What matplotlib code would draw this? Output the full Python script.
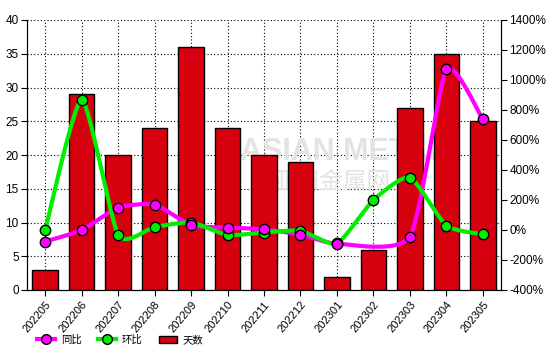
import numpy as np
import matplotlib
matplotlib.use("Agg")
import matplotlib.pyplot as plt
from matplotlib.lines import Line2D
from matplotlib.patches import Patch

plt.rcParams['font.family'] = ['Liberation Sans', 'Noto Sans CJK SC', 'DejaVu Sans']

months = ['202205', '202206', '202207', '202208', '202209', '202210', '202211',
          '202212', '202301', '202302', '202303', '202304', '202305']
days = [3, 29, 20, 24, 36, 24, 20, 19, 2, 6, 27, 35, 25]
# year-on-year (%) - no value for 202302
yoy = [-77, 0, 149, 169, 33, 16, 5, -31, -91, np.nan, -44, 1071, 738]
# month-on-month (%)
mom = [0, 867, -31, 20, 50, -33, -17, -5, -89, 200, 350, 30, -29]


def smooth(xs, ys, k=0.3, n=24):
    # cardinal spline through the points, tangents scaled by k
    xs = np.asarray(xs, float)
    ys = np.asarray(ys, float)
    m = len(xs)
    mx = np.zeros(m)
    my = np.zeros(m)
    for i in range(m):
        a = max(i - 1, 0)
        b = min(i + 1, m - 1)
        mx[i] = k * (xs[b] - xs[a])
        my[i] = k * (ys[b] - ys[a])
    t = np.linspace(0, 1, n)
    h00 = 2 * t**3 - 3 * t**2 + 1
    h10 = t**3 - 2 * t**2 + t
    h01 = -2 * t**3 + 3 * t**2
    h11 = t**3 - t**2
    outx, outy = [], []
    for i in range(m - 1):
        outx.extend(h00 * xs[i] + h10 * mx[i] + h01 * xs[i + 1] + h11 * mx[i + 1])
        outy.extend(h00 * ys[i] + h10 * my[i] + h01 * ys[i + 1] + h11 * my[i + 1])
    return np.array(outx), np.array(outy)


fig = plt.figure(figsize=(5.56, 3.51), dpi=100)
ax = fig.add_axes([27 / 556, 61 / 351, 474 / 556, 270 / 351])
ax2 = ax.twinx()

x = np.arange(len(months))
red = '#D7000F'
green = '#00EE00'
pink = '#FF00FF'

ax.bar(x, days, width=0.7, color=red, edgecolor='black', linewidth=1, zorder=2)
ax.set_ylim(0, 40)
ax.set_yticks(range(0, 41, 5))
ax.set_xlim(-0.5, len(months) - 0.5)
ax.set_xticks(x)
ax.set_xticklabels(months, rotation=50, ha='right', rotation_mode='anchor',
                   fontsize=8)
ax.grid(True, color='black', linestyle=(0, (1, 2)), linewidth=0.8)
ax.set_axisbelow(True)
ax.tick_params(axis='y', labelsize=8.5, length=4, pad=2)
ax.tick_params(axis='x', length=4, pad=3)
ax.spines['top'].set_visible(False)

# faint watermark behind the bars
ax.text(0.45, 0.51, 'ASIAN METAL', transform=ax.transAxes, fontsize=22,
        fontweight='bold', color='#e3e3e3', ha='left', va='center', zorder=1)
ax.text(0.52, 0.40, '亚洲金属网', transform=ax.transAxes, fontsize=17,
        color='#e3e3e3', ha='left', va='center', zorder=1,
        family=['Noto Sans CJK SC'])

yv = np.array(yoy, float)
ok = ~np.isnan(yv)
sx, sy = smooth(x[ok], yv[ok])
ax2.plot(sx, sy, color=pink, linewidth=3, zorder=3)
ax2.plot(x[ok], yv[ok], 'o', color=pink, markeredgecolor='black',
         markersize=7.5, markeredgewidth=1, zorder=5)
sx, sy = smooth(x, mom)
ax2.plot(sx, sy, color=green, linewidth=3, zorder=3)
ax2.plot(x, mom, 'o', color=green, markeredgecolor='black',
         markersize=7.5, markeredgewidth=1, zorder=4)

ax2.set_ylim(-400, 1400)
ax2.set_yticks(range(-400, 1401, 200))
ax2.set_yticklabels([f'{v}%' for v in range(-400, 1401, 200)])
ax2.tick_params(labelsize=8.5, length=4, pad=2)
ax2.spines['top'].set_visible(False)
ax.set_zorder(ax2.get_zorder() - 1)
ax2.patch.set_visible(False)

handles = [Line2D([], [], color=pink, linewidth=3, marker='o', markersize=7,
                  markeredgecolor='black', markerfacecolor=pink),
           Line2D([], [], color=green, linewidth=3, marker='o', markersize=7,
                  markeredgecolor='black', markerfacecolor=green),
           Patch(facecolor=red, edgecolor='black')]
fig.legend(handles, ['同比', '环比', '天数'], loc='center left', ncol=3,
           bbox_to_anchor=(32 / 556, 11 / 351), frameon=False, fontsize=7.5,
           borderpad=0, handlelength=1.75, columnspacing=1.6, handletextpad=0.5)

fig.savefig('out.png', dpi=100)
